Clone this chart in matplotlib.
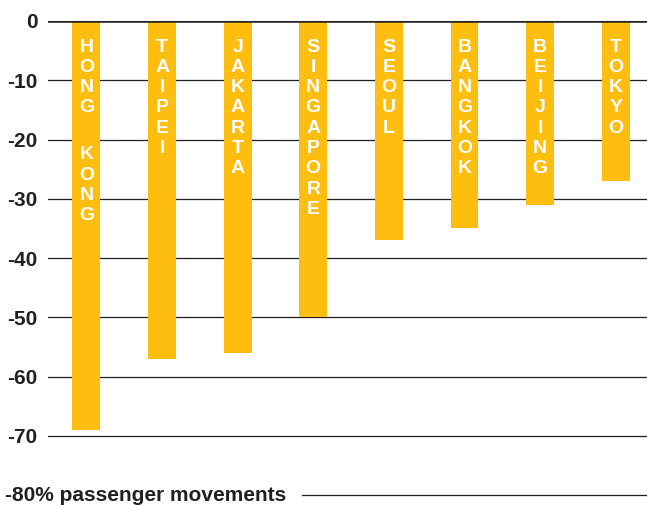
import matplotlib.pyplot as plt
from matplotlib.transforms import blended_transform_factory

# Year-on-year change in airport passenger movements
cities = ['HONG KONG', 'TAIPEI', 'JAKARTA', 'SINGAPORE', 'SEOUL', 'BANGKOK', 'BEIJING', 'TOKYO']
change = [-69, -57, -56, -50, -37, -35, -31, -27]
grid_levels = [-10, -20, -30, -40, -50, -60, -70]
tick_levels = [0, -10, -20, -30, -40, -50, -60, -70]

BAR = '#FDBE10'
INK = '#231f20'

plt.rcParams['font.family'] = ['Liberation Sans', 'DejaVu Sans']

fig = plt.figure(figsize=(6.47, 5.05), dpi=100)
ax = fig.add_axes([48 / 647, 10 / 505, 599 / 647, 474 / 505])

x = list(range(len(cities)))
ax.bar(x, change, width=0.37, color=BAR, zorder=2)

# vertical white city names inside each bar, one letter per row (points)
step, gap, first = 14.6, 33.8, 22.0
for xi, name in zip(x, cities):
    off = first
    for ch in name:
        if ch == ' ':
            off += gap - step
            continue
        ax.annotate(ch, (xi, 0), xytext=(0, -off), textcoords='offset points',
                    ha='center', va='baseline', color='white',
                    fontsize=14, fontweight='bold', zorder=3)
        off += step

for g in grid_levels:
    ax.axhline(g, color=INK, lw=0.9, zorder=1)
ax.axhline(0, color=INK, lw=1.8, zorder=4)
ax.axhline(-80, xmin=0.424, xmax=1, color=INK, lw=0.9, zorder=1, clip_on=False)

ax.set_xlim(-0.509, 7.414)
ax.set_ylim(-80, 0)
ax.set_yticks(tick_levels)
ax.set_yticklabels([str(t) for t in tick_levels], fontsize=15, fontweight='bold', color=INK)
ax.tick_params(axis='y', length=0, pad=7.5)
ax.set_xticks([])
for s in ax.spines.values():
    s.set_visible(False)

trans = blended_transform_factory(fig.transFigure, ax.transData)
ax.text(5 / 647, -80, '-80% passenger movements', transform=trans, ha='left', va='center',
        fontsize=15, fontweight='bold', color=INK, clip_on=False)

fig.savefig('out.png', dpi=100)
